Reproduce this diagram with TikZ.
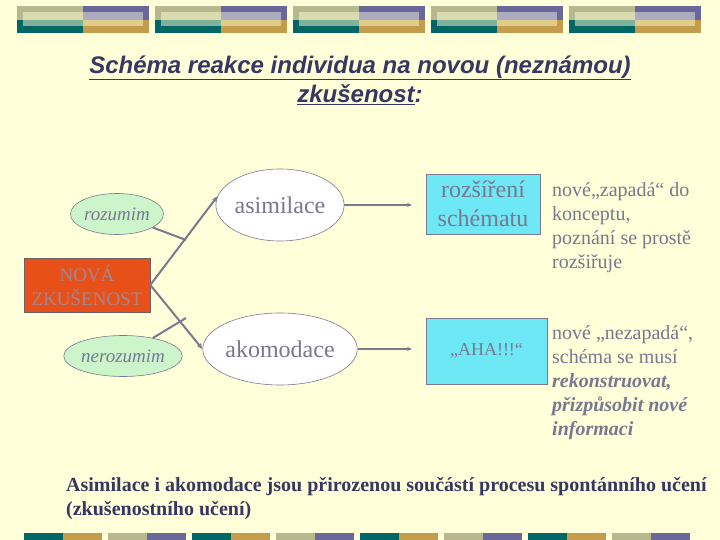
\documentclass[tikz,border=0pt]{standalone}
\usepackage{fontspec}
\setmainfont{Liberation Serif}
\newfontfamily\titlefont{Liberation Sans}
\usetikzlibrary{shapes.geometric,arrows.meta}
\definecolor{bg}{RGB}{255,255,217}
\definecolor{khaki}{RGB}{184,184,143}
\definecolor{lkhaki}{RGB}{218,220,176}
\definecolor{purp}{RGB}{106,103,153}
\definecolor{lpurp}{RGB}{173,171,191}
\definecolor{teal}{RGB}{0,102,102}
\definecolor{lteal}{RGB}{127,178,154}
\definecolor{gold}{RGB}{196,157,76}
\definecolor{lgold}{RGB}{224,204,138}
\definecolor{txtgray}{RGB}{120,120,145}
\definecolor{linegray}{RGB}{122,122,142}
\definecolor{navy}{RGB}{55,55,100}
\definecolor{orng}{RGB}{232,80,26}
\definecolor{novtxt}{RGB}{160,135,145}
\definecolor{cyanbox}{RGB}{110,232,245}
\definecolor{greenfill}{RGB}{204,245,204}
\tikzset{
  ell/.style={ellipse, draw=linegray, line width=0.6pt, inner sep=0pt, text=txtgray},
  greenell/.style={ell, fill=greenfill, minimum width=90pt, minimum height=41pt, font=\fontsize{19}{19}\selectfont\itshape},
  whiteell/.style={ell, fill=white, minimum width=125pt, minimum height=72pt, font=\fontsize{24}{24}\selectfont},
  cbox/.style={rectangle, draw=linegray, line width=0.6pt, fill=cyanbox, inner sep=0pt, text=txtgray, align=center},
  conn/.style={draw=linegray, line width=2pt},
  arr/.style={conn, -{Stealth[length=6pt,width=5pt]}},
  note/.style={anchor=north west, inner sep=0pt, align=left, text=txtgray, font=\fontsize{20}{24}\selectfont}
}
\newcommand{\topunit}[1]{%
  \fill[khaki] (#1,6) rectangle ++(66,14);
  \fill[purp] (#1+66,6) rectangle ++(66,14);
  \fill[teal] (#1,20) rectangle ++(66,13);
  \fill[gold] (#1+66,20) rectangle ++(66,13);
  \fill[lkhaki] (#1+6,12) rectangle ++(60,8);
  \fill[lpurp] (#1+66,12) rectangle ++(60,8);
  \fill[lteal] (#1+6,20) rectangle ++(60,6);
  \fill[lgold] (#1+66,20) rectangle ++(60,6);
}
\begin{document}
\begin{tikzpicture}[x=1pt,y=-1pt]
\fill[bg] (0,0) rectangle (720,540);
\useasboundingbox (0,0) rectangle (720,540);
% top decoration
\foreach \u in {17,155,293,431,569} {\topunit{\u}}
% bottom decoration
\foreach \u in {24,192,360,528} {
  \fill[teal] (\u,533) rectangle ++(39,7);
  \fill[gold] (\u+39,533) rectangle ++(39,7);
}
\foreach \u in {108,276,444,612} {
  \fill[khaki] (\u,533) rectangle ++(39,7);
  \fill[purp] (\u+39,533) rectangle ++(39,7);
}
% title
\node[text=navy, font=\titlefont\bfseries\itshape\fontsize{24}{29}\selectfont, align=center] (title) at (360,80)
  {\underline{Schéma reakce individua na novou (neznámou)}\\\underline{zkušenost}:};
% nodes
\node[rectangle, draw=novtxt!70!black, line width=0.6pt, fill=orng, minimum width=126pt, minimum height=54pt, inner sep=0pt,
  text=novtxt, align=center, font=\fontsize{19}{24}\selectfont] (nova) at (87,285) {NOVÁ\\ZKUŠENOST};
\node[greenell] (roz) at (117,214) {rozumim};
\node[greenell] (neroz) at (123,356) {nerozumim};
\node[whiteell] (asim) at (280,205) {asimilace};
\node[whiteell] (akom) at (280,349) {akomodace};
\node[cbox, minimum width=114pt, minimum height=60pt, font=\fontsize{24}{29}\selectfont] (rozs) at (483,204) {rozšíření\\schématu};
\node[cbox, minimum width=121pt, minimum height=66pt, font=\fontsize{18}{20}\selectfont] (aha) at (486.5,351) {„AHA!!!“};
% connectors
\draw[arr] (nova.east) -- (asim.172);
\draw[arr] (nova.east) -- (akom.west);
\coordinate (j1) at (186,240);
\coordinate (j2) at (186,318);
\draw[conn] (roz) -- (j1);
\draw[conn] (neroz) -- (j2);
\coordinate (e1) at (412,205);
\coordinate (e2) at (412,349);
\draw[draw=linegray, line width=2pt, -{Stealth[length=5pt,width=4pt]}] (asim.east) -- (e1);
\draw[draw=linegray, line width=2pt, -{Stealth[length=5pt,width=4pt]}] (akom.east) -- (e2);
% notes
\node[note] (t1) at (552,182) {nové„zapadá“ do\\konceptu,\\poznání se prostě\\rozšiřuje};
\node[note] (t2) at (552,325) {nové „nezapadá“,\\schéma se musí\\\textbf{\textit{rekonstruovat,}}\\\textbf{\textit{přizpůsobit nové}}\\\textbf{\textit{informaci}}};
% bottom text
\node[anchor=north west, inner sep=0pt, align=left, text=navy, font=\bfseries\fontsize{20}{24}\selectfont] (bot) at (66,477)
  {Asimilace i akomodace jsou přirozenou součástí procesu spontánního učení\\(zkušenostního učení)};
\end{tikzpicture}
\end{document}
